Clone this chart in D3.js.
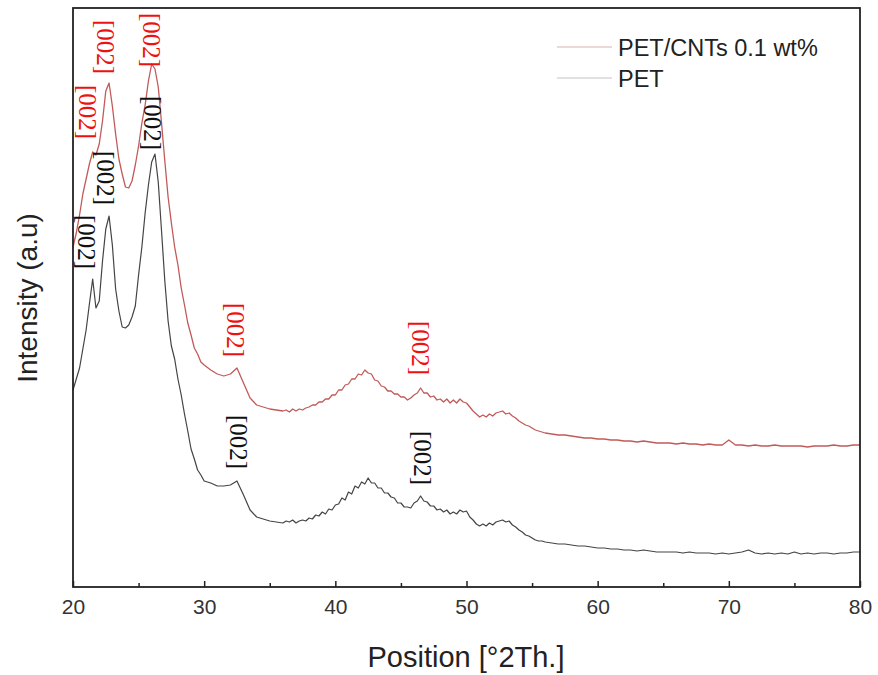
<!DOCTYPE html>
<meta charset="utf-8">
<html>
<head>
    <title>XRD - PET and PET/CNTs</title>
</head>
<style>
    *{ margin:0; padding:0;}
    body{ background:#fff;}
    svg text{ font-family:'Liberation Sans', Arial, sans-serif;}
</style>
<script src="https://cdnjs.cloudflare.com/ajax/libs/d3/7.8.5/d3.min.js"></script>
<body>
<div id="chartContainer"></div>
<script type="text/javascript">

    // diffraction angle (2 theta)
    var angles = [20, 20.25, 20.5, 20.75, 21, 21.25, 21.5, 21.75, 22, 22.25, 22.5, 22.75,
        23, 23.25, 23.5, 23.75, 24, 24.25, 24.5, 24.75, 25, 25.25, 25.5, 25.75,
        26, 26.25, 26.5, 26.75, 27, 27.25, 27.5, 27.75, 28, 28.25, 28.5, 28.75,
        29, 29.25, 29.5, 29.75, 30,
        30.5, 31, 31.5, 32, 32.5, 33, 33.5, 34, 34.5, 35, 35.5,
        36, 36.25, 36.5, 36.75, 37, 37.25, 37.5, 37.75,
        38, 38.25, 38.5, 38.75, 39, 39.25, 39.5, 39.75,
        40, 40.25, 40.5, 40.75, 41, 41.25, 41.5, 41.75,
        42, 42.25, 42.5, 42.75, 43, 43.25, 43.5, 43.75,
        44, 44.25, 44.5, 44.75, 45, 45.25, 45.5, 45.75,
        46, 46.25, 46.5, 46.75, 47, 47.25, 47.5, 47.75,
        48, 48.25, 48.5, 48.75, 49, 49.25, 49.5, 49.75,
        50, 50.25, 50.5, 50.75, 51, 51.25, 51.5, 51.75,
        52, 52.25, 52.5, 52.75, 53, 53.25, 53.5, 53.75,
        54, 54.25, 54.5, 54.75, 55, 55.25, 55.5, 55.75,
        56,
        56.5, 57, 57.5, 58, 58.5, 59, 59.5, 60,
        60.5, 61, 61.5, 62, 62.5, 63, 63.5, 64,
        64.5, 65, 65.5, 66, 66.5, 67, 67.5, 68,
        68.5, 69, 69.5, 70, 70.5, 71, 71.5, 72,
        72.5, 73, 73.5, 74, 74.5, 75, 75.5, 76,
        76.5, 77, 77.5, 78, 78.5, 79, 79.5, 80];

    // PET/CNTs 0.1 wt% (a.u., stacked above PET)
    var petCnt = [340, 354, 372, 393, 408, 423, 435, 432, 443, 466, 496, 504,
        481, 453, 428, 413, 400, 399, 406, 422, 441, 464, 482, 506,
        523, 518, 500, 464, 426, 390, 364, 340, 322, 299, 282, 264,
        252, 239, 233, 225, 222,
        217, 213, 211, 213, 219, 204, 189, 182, 180, 178, 177,
        176, 177, 175, 178, 176, 178, 177, 179,
        180, 182, 182, 185, 185, 188, 188, 192,
        192, 197, 197, 202, 203, 208, 208, 213,
        212, 217, 214, 213, 207, 206, 201, 200,
        196, 196, 193, 193, 190, 190, 187, 189,
        192, 194, 199, 194, 194, 190, 191, 187,
        188, 185, 188, 184, 187, 184, 188, 185,
        184, 180, 176, 173, 170, 172, 170, 173,
        171, 174, 175, 176, 173, 174, 171, 169,
        166, 164, 162, 161, 159, 157, 156, 155,
        154,
        153, 152, 152, 151, 150, 149, 149, 148,
        148, 147, 147, 146, 146, 145, 146, 145,
        144, 144, 144, 143, 144, 143, 143, 142,
        143, 142, 142, 147, 142, 142, 141, 142,
        141, 141, 142, 141, 141, 141, 141, 140,
        141, 141, 141, 142, 141, 141, 142, 142];

    // PET
    var pet = [197, 208, 219, 238, 257, 283, 308, 279, 286, 326, 358, 371,
        342, 298, 276, 260, 259, 262, 270, 281, 312, 340, 374, 402,
        425, 433, 405, 356, 306, 266, 241, 228, 208, 192, 173, 156,
        138, 128, 117, 112, 106,
        104, 101, 101, 102, 106, 92, 77, 70, 68, 66, 65,
        64, 66, 65, 67, 64, 66, 67, 66,
        69, 68, 72, 71, 75, 73, 78, 77,
        82, 83, 89, 87, 95, 93, 101, 99,
        105, 103, 109, 104, 104, 99, 99, 94,
        94, 90, 89, 84, 84, 80, 80, 79,
        84, 86, 91, 86, 85, 81, 81, 77,
        78, 75, 77, 73, 75, 73, 77, 75,
        76, 70, 67, 63, 61, 63, 61, 64,
        62, 65, 66, 67, 65, 66, 62, 60,
        57, 55, 52, 51, 49, 47, 46, 46,
        45,
        44, 43, 43, 42, 41, 41, 40, 39,
        39, 38, 38, 37, 37, 36, 37, 36,
        35, 35, 35, 35, 34, 35, 34, 34,
        34, 33, 34, 33, 34, 35, 37, 34,
        33, 34, 33, 34, 33, 35, 33, 34,
        33, 34, 34, 33, 34, 34, 35, 35];

    var xTicks = [20, 30, 40, 50, 60, 70, 80];
    var xMinorTicks = [25, 35, 45, 55, 65, 75];
    var seriesNames = ["PET/CNTs 0.1 wt%", "PET"];
    var peakText = "[002]";
    // label centres in data units
    var cntPeakAngles = [21.1, 22.45, 25.95, 32.35, 46.45];
    var cntPeakLevels = [475, 540, 547, 257, 239];
    var petPeakAngles = [21.0, 22.45, 26.05, 32.6, 46.6];
    var petPeakLevels = [345, 409, 464, 145, 129];

    var width = 878, height = 675;
    var plotLeft = 73, plotRight = 860, plotTop = 8, plotBottom = 587;
    var cntColor = "#c25a5a", petColor = "#444";

    var svg = d3.select("#chartContainer").append("svg")
            .attr("width", width)
            .attr("height", height);

    var x = d3.scaleLinear().domain([20, 80]).range([plotLeft, plotRight]);
    var y = d3.scaleLinear().domain([0, 580]).range([plotBottom, plotTop - 1]);

    var line = d3.line()
            .x(function (d) { return x(d[0]); })
            .y(function (d) { return y(d[1]); });

    var cntData = angles.map(function (a, i) { return [a, petCnt[i]]; });
    var petData = angles.map(function (a, i) { return [a, pet[i]]; });

    svg.append("path").datum(petData)
            .attr("d", line)
            .attr("fill", "none")
            .attr("stroke", petColor)
            .attr("stroke-width", 1.2)
            .attr("stroke-linejoin", "round");

    svg.append("path").datum(cntData)
            .attr("d", line)
            .attr("fill", "none")
            .attr("stroke", cntColor)
            .attr("stroke-width", 1.3)
            .attr("stroke-linejoin", "round");

    // frame
    svg.append("rect")
            .attr("x", plotLeft).attr("y", plotTop)
            .attr("width", plotRight - plotLeft).attr("height", plotBottom - plotTop)
            .attr("fill", "none")
            .attr("stroke", "#222")
            .attr("stroke-width", 1.8);

    // bottom axis, ticks pointing inside
    var xAxis = svg.append("g")
            .attr("transform", "translate(0," + plotBottom + ")")
            .call(d3.axisBottom(x).tickValues(xTicks).tickSize(-6).tickFormat(d3.format("d")));
    xAxis.select(".domain").remove();
    xAxis.selectAll(".tick line").attr("stroke", "#222").attr("stroke-width", 1.5);
    xAxis.selectAll(".tick text")
            .attr("y", 12)
            .style("font-size", "21px")
            .style("font-family", "'Liberation Sans', Arial, sans-serif")
            .attr("fill", "#333");

    var xMinor = svg.append("g")
            .attr("transform", "translate(0," + plotBottom + ")")
            .call(d3.axisBottom(x).tickValues(xMinorTicks).tickSize(-4).tickFormat(""));
    xMinor.select(".domain").remove();
    xMinor.selectAll(".tick line").attr("stroke", "#222").attr("stroke-width", 1.5);

    svg.append("text")
            .attr("x", (plotLeft + plotRight) / 2 - 0.5)
            .attr("y", 667)
            .attr("text-anchor", "middle")
            .style("font-size", "29px")
            .attr("fill", "#222")
            .text("Position [°2Th.]");

    svg.append("text")
            .attr("transform", "translate(37," + 298 + ") rotate(-90)")
            .attr("text-anchor", "middle")
            .style("font-size", "28px")
            .attr("fill", "#222")
            .text("Intensity (a.u)");

    // legend
    var legendColors = ["#d8b4b4", "#c4c4c4"];
    var legend = svg.append("g");
    seriesNames.forEach(function (name, i) {
        var ly = 47 + i * 31;
        legend.append("line")
                .attr("x1", 557).attr("x2", 612)
                .attr("y1", ly).attr("y2", ly)
                .attr("stroke", legendColors[i])
                .attr("stroke-width", 1.2);
        legend.append("text")
                .attr("x", 618)
                .attr("y", ly + 9)
                .style("font-size", "23.5px")
                .attr("fill", "#222")
                .text(name);
    });

    // [002] peak labels, rotated to read top to bottom
    function addLabels(anglesArr, levelsArr, color) {
        svg.append("g").selectAll("text")
                .data(anglesArr)
                .enter().append("text")
                .attr("transform", function (d, i) {
                    return "translate(" + x(d) + "," + y(levelsArr[i]) + ") rotate(90)";
                })
                .attr("text-anchor", "middle")
                .attr("dy", "0.33em")
                .style("font-family", "'Liberation Serif', 'Times New Roman', serif")
                .style("font-size", "25px")
                .attr("fill", color)
                .text(peakText);
    }
    addLabels(cntPeakAngles, cntPeakLevels, "#ee1111");
    addLabels(petPeakAngles, petPeakLevels, "#111");

</script>
</body>
</html>
